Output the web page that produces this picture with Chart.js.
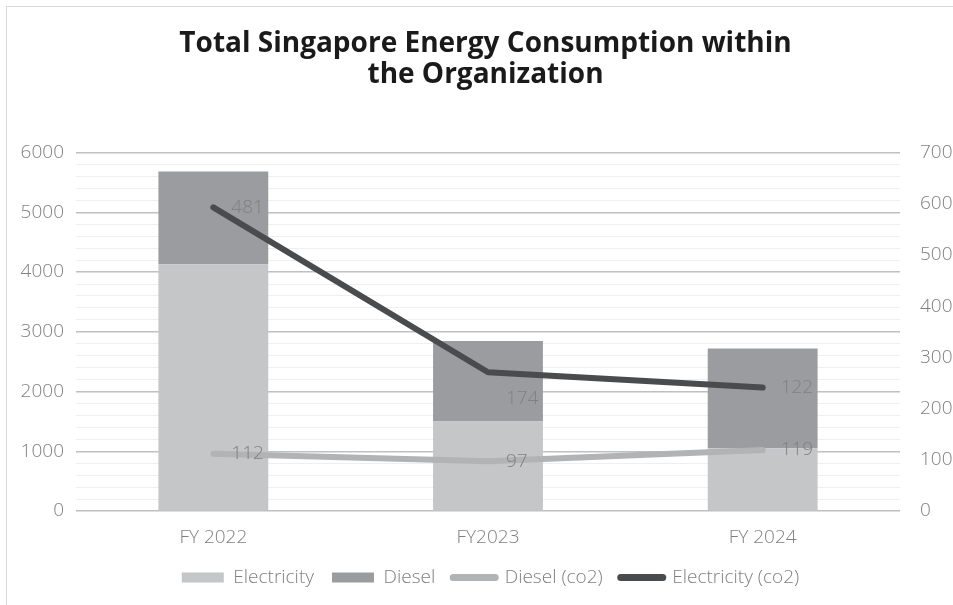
<!DOCTYPE html>
<html>
<head>
<meta charset="utf-8">
<script src="https://cdn.jsdelivr.net/npm/chart.js@4"></script>
<style>
  body { margin: 0; background: #fff; }
  #wrap { position: relative; width: 953px; height: 605px; overflow: hidden; }
  #frame { position: absolute; left: 6px; top: 6px; width: 1000px; height: 700px; border: 1px solid #d9d9d9; }
  canvas { position: absolute; left: 0; top: 0; }
</style>
</head>
<body>
<div id="wrap">
  <div id="frame"></div>
  <canvas id="chart-space" width="953" height="605"></canvas>
</div>
<script>
const years = ['FY 2022', 'FY2023', 'FY 2024'];
// energy (left axis)
const electricity = [4130, 1500, 1050];
const diesel = [1555, 1345, 1670];
// co2 (right axis, stacked lines)
const dieselCo2 = [112, 97, 119];
const electricityCo2 = [481, 174, 122];

const textGrey = '#808080';
const axisFont = { family: 'Open Sans', size: 19, weight: '300' };

// little plugin to write the values next to the line points
const lineLabels = {
  id: 'lineLabels',
  afterDatasetsDraw(chart) {
    const ctx = chart.ctx;
    ctx.save();
    ctx.font = '300 19px "Open Sans"';
    ctx.fillStyle = textGrey;
    ctx.textBaseline = 'middle';
    ctx.textAlign = 'left';
    chart.data.datasets.forEach((ds, i) => {
      if (ds.type !== 'line') return;
      chart.getDatasetMeta(i).data.forEach((pt, j) => {
        const dy = ds.labelShift ? ds.labelShift[j] : 0;
        ctx.fillText(ds.data[j], pt.x + 18, pt.y + dy);
      });
    });
    ctx.restore();
  }
};

// title and legend in the picture sit a bit off centre
const blockShift = {
  id: 'blockShift',
  afterLayout(chart) {
    chart.titleBlock.left += 9;
    chart.titleBlock.right += 9;
    chart.legend.left += 14;
    chart.legend.right += 14;
  }
};

new Chart(document.getElementById('chart-space'), {
  data: {
    labels: years,
    datasets: [
      {
        type: 'bar', label: 'Electricity', data: electricity,
        backgroundColor: '#c5c6c8', yAxisID: 'y', stack: 'energy', order: 1
      },
      {
        type: 'bar', label: 'Diesel', data: diesel,
        backgroundColor: '#9b9c9f', yAxisID: 'y', stack: 'energy', order: 1
      },
      {
        type: 'line', label: 'Diesel (co2)', data: dieselCo2,
        borderColor: '#b2b3b5', backgroundColor: '#b2b3b5', borderWidth: 6,
        borderCapStyle: 'round', borderJoinStyle: 'round',
        pointRadius: 0, yAxisID: 'y1', stack: 'co2', order: 0
      },
      {
        type: 'line', label: 'Electricity (co2)', data: electricityCo2,
        borderColor: '#4a4b4d', backgroundColor: '#4a4b4d', borderWidth: 6,
        borderCapStyle: 'round', borderJoinStyle: 'round',
        pointRadius: 0, yAxisID: 'y1', stack: 'co2', order: 0,
        labelShift: [0, 26, 0]
      }
    ]
  },
  options: {
    responsive: false,
    animation: false,
    datasets: {
      bar: { categoryPercentage: 1, barPercentage: 0.4 }
    },
    layout: { padding: { left: 0, right: 0, top: 0, bottom: 8 } },
    plugins: {
      title: {
        display: true,
        text: ['Total Singapore Energy Consumption within', 'the Organization'],
        font: { family: 'Open Sans', size: 28, weight: 'bold', lineHeight: 1.1 },
        color: '#1a1a1a',
        padding: { top: 29, bottom: 62 }
      },
      legend: {
        position: 'bottom',
        labels: {
          usePointStyle: true,
          pointStyleWidth: 42,
          boxHeight: 10,
          padding: 18,
          color: textGrey,
          font: axisFont,
          sort: (a, b) => a.datasetIndex - b.datasetIndex,
          generateLabels(chart) {
            const items = Chart.defaults.plugins.legend.labels.generateLabels(chart);
            items.forEach(it => {
              const ds = chart.data.datasets[it.datasetIndex];
              if (ds.type === 'line') {
                it.pointStyle = 'line';
                it.lineWidth = 7;
                it.lineCap = 'round';
                it.strokeStyle = ds.borderColor;
              } else {
                it.pointStyle = 'rect';
                it.lineWidth = 0;
                it.fillStyle = ds.backgroundColor;
              }
            });
            return items;
          }
        }
      },
      tooltip: { enabled: false }
    },
    scales: {
      x: {
        stacked: true,
        grid: { display: false, drawTicks: false },
        border: { display: false },
        ticks: { padding: 15, color: textGrey, font: axisFont },
        afterFit(scale) { scale.height = 39; }
      },
      y: {
        stacked: true,
        position: 'left',
        min: 0, max: 6000,
        ticks: {
          stepSize: 200,
          autoSkip: false,
          padding: 12,
          color: textGrey,
          font: axisFont,
          callback: v => (v % 1000 === 0 ? v : '')
        },
        grid: {
          drawTicks: false,
          color: c => (c.tick.value % 1000 === 0 ? '#c0c0c0' : '#efefef'),
          lineWidth: c => (c.tick.value % 1000 === 0 ? 1.4 : 1)
        },
        border: { display: false },
        afterFit(scale) { scale.width = 76; }
      },
      y1: {
        stacked: true,
        position: 'right',
        min: 0, max: 700,
        ticks: {
          stepSize: 100,
          padding: 20,
          color: textGrey,
          font: axisFont
        },
        grid: { display: false, drawTicks: false },
        border: { display: false },
        afterFit(scale) { scale.width = 53; }
      }
    }
  },
  plugins: [lineLabels, blockShift]
});
</script>
</body>
</html>
